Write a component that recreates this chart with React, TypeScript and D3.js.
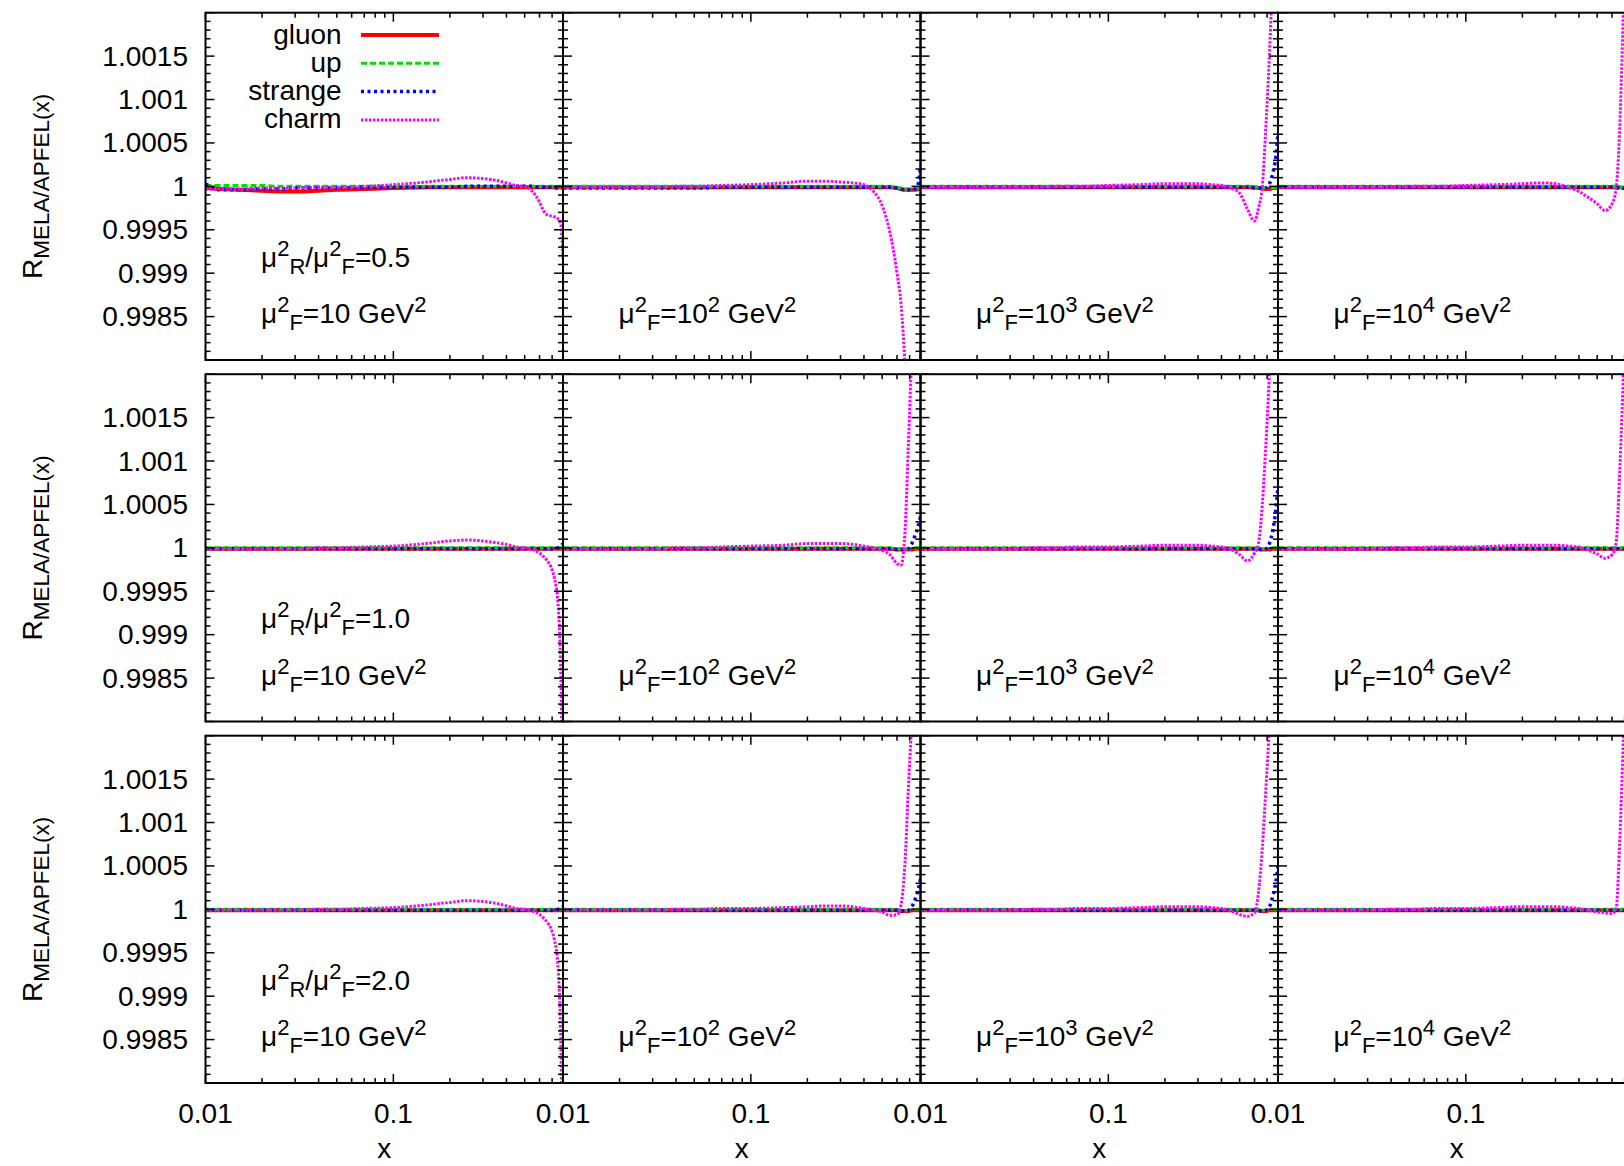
import React from "react";
import * as d3 from "d3";

// ---------- data ----------
// x sample grid (log scale), shared by all curves
const xGrid = [0.01, 0.012, 0.015, 0.02, 0.025, 0.03, 0.04, 0.05, 0.07, 0.1, 0.15, 0.2, 0.25, 0.3, 0.35, 0.4, 0.45, 0.5, 0.55, 0.6, 0.63, 0.66, 0.69, 0.72, 0.75, 0.78, 0.8];

const flavours = ["gluon", "up", "strange", "charm"];
const ratioLabels = ["0.5", "1.0", "2.0"]; // mu_R^2 / mu_F^2
const scaleExps = ["", "2", "3", "4"]; // mu_F^2 = 10^exp
const yTickValues = [0.9985, 0.999, 0.9995, 1, 1.0005, 1.001, 1.0015];
const yTickLabels = ["0.9985", "0.999", "0.9995", "1", "1.0005", "1.001", "1.0015"];
const xTickValues = [0.01, 0.1];
const xTickLabels = ["0.01", "0.1"];

// R - 1, in units of 1e-5; one array per column (mu_F^2 = 10, 1e2, 1e3, 1e4)
const gluonR05 = [
  [-2, -3, -4, -5, -6, -6, -5, -4, -3, -2, -1, -1, -1, -1, -1, -1, -1, -1, -1, -1, -1, -1, -1, -1, -1, -1, -1],
  [-1, -1, -1, -1, -1, -1, -1, -1, -1, -1, -1, -1, -1, -1, -1, -1, -1, -1, -1, -2, -3, -4, -4, -4, -4, -3, -1],
  [-1, -1, -1, -1, -1, -1, -1, -1, -1, -1, -1, -1, -1, -1, -1, -1, -1, -1, -1, -1, -2, -2, -3, -3, -2, -2, -1],
  [-1, -1, -1, -1, -1, -1, -1, -1, -1, -1, -1, -1, -1, -1, -1, -1, -1, -1, -1, -1, -1, -1, -2, -2, -2, -1, -1],
];
const upR05 = [
  [1, 1, 1, 1, 0, 0, 0, 0, 0, 0, 0, 0, 0, 0, 0, 0, 0, 0, 0, 0, 0, 0, 0, 0, 0, 0, 0],
  [0, 0, 0, 0, 0, 0, 0, 0, 0, 0, 0, 0, 0, 0, 0, 0, 0, 0, 0, -1, -2, -3, -3, -3, -3, -2, 0],
  [0, 0, 0, 0, 0, 0, 0, 0, 0, 0, 0, 0, 0, 0, 0, 0, 0, 0, 0, 0, -1, -1, -2, -2, -2, -1, 0],
  [0, 0, 0, 0, 0, 0, 0, 0, 0, 0, 0, 0, 0, 0, 0, 0, 0, 0, 0, 0, 0, -1, -1, -1, -1, -1, 0],
];
const strangeR05 = [
  [3, -4, -4, -3, -3, -2, -2, -2, -1, -1, -1, -1, 0, 0, 0, 0, 0, 0, 0, -1, -1, -1, -1, -2, -2, -2, -2],
  [-2, -2, -2, -2, -2, -2, -2, -2, -1, -1, -1, -1, -1, -1, -1, -1, -1, -1, -1, -2, -3, -4, -4, -4, -3, 4, 24],
  [-1, -1, -1, -1, -1, -1, -1, -1, -1, -1, -1, -1, -1, -1, -1, -1, -1, -1, -1, -2, -2, -2, -2, 3, 15, 35, 62],
  [-1, -1, -1, -1, -1, -1, -1, -1, -1, -1, -1, -1, -1, -1, -1, -1, -1, -1, -1, -1, -2, -2, -2, -1, 1, 3, 6],
];
const charmR05 = [
  [-3, -3, -3, -2, -2, -2, -1, -1, 0, 2, 5, 8, 10, 9, 7, 4, 1, 0, -6, -18, -28, -33, -34, -35, -37, -45, -84],
  [-1, -1, -1, -1, -1, -1, 0, 0, 1, 2, 4, 6, 6, 5, 4, 2, -6, -22, -53, -100, -135, -200, -280, -360, -440, -520, -580],
  [-1, -1, -1, -1, -1, -1, -1, 0, 0, 1, 2, 3, 3, 3, 2, 1, -2, -8, -26, -40, -25, 0, 70, 150, 250, 350, 450],
  [-1, -1, -1, -1, -1, -1, -1, 0, 0, 1, 2, 3, 4, 3, -1, -6, -13, -20, -28, -20, -4, 70, 210, 400, 600, 800, 900],
];

const gluonR10 = [
  [-1, -1, -1, -1, -1, -1, -1, -1, -1, -1, -1, -1, -1, -1, -1, -1, -1, -1, -1, -1, -1, -1, -1, -1, -1, -1, -1],
  [-1, -1, -1, -1, -1, -1, -1, -1, -1, -1, -1, -1, -1, -1, -1, -1, -1, -1, -1, -2, -2, -2, -2, -2, -1, -1, -1],
  [-1, -1, -1, -1, -1, -1, -1, -1, -1, -1, -1, -1, -1, -1, -1, -1, -1, -1, -1, -1, -1, -2, -2, -2, -1, -1, -1],
  [-1, -1, -1, -1, -1, -1, -1, -1, -1, -1, -1, -1, -1, -1, -1, -1, -1, -1, -1, -1, -1, -1, -1, -1, -1, -1, -1],
];
const upR10 = [
  [0, 0, 0, 0, 0, 0, 0, 0, 0, 0, 0, 0, 0, 0, 0, 0, 0, 0, 0, 0, 0, 0, 0, 0, 0, 0, 0],
  [0, 0, 0, 0, 0, 0, 0, 0, 0, 0, 0, 0, 0, 0, 0, 0, 0, 0, 0, -1, -1, -1, -1, -1, 0, 0, 0],
  [0, 0, 0, 0, 0, 0, 0, 0, 0, 0, 0, 0, 0, 0, 0, 0, 0, 0, 0, 0, 0, -1, -1, -1, 0, 0, 0],
  [0, 0, 0, 0, 0, 0, 0, 0, 0, 0, 0, 0, 0, 0, 0, 0, 0, 0, 0, 0, 0, 0, 0, 0, 0, 0, 0],
];
const strangeR10 = [
  [-1, -1, -1, -1, -1, -1, -1, -1, -1, -1, -1, -1, -1, -1, -1, -1, -1, -1, -1, -1, -1, -1, -1, -1, 0, 2, 5],
  [-1, -1, -1, -1, -1, -1, -1, -1, -1, -1, -1, -1, -1, -1, -1, -1, -1, -1, -1, -2, -2, -2, -1, 5, 15, 26, 36],
  [-1, -1, -1, -1, -1, -1, -1, -1, -1, -1, -1, -1, -1, -1, -1, -1, -1, -1, -1, -1, -2, -2, -1, 5, 20, 45, 71],
  [-1, -1, -1, -1, -1, -1, -1, -1, -1, -1, -1, -1, -1, -1, -1, -1, -1, -1, -1, -1, -1, -1, -1, 0, 2, 5, 8],
];
const charmR10 = [
  [-1, -1, -1, -1, -1, -1, 0, 0, 1, 2, 5, 8, 9, 8, 6, 4, 1, 0, -2, -6, -10, -15, -22, -35, -60, -150, -300],
  [-1, -1, -1, -1, -1, -1, 0, 0, 1, 2, 3, 5, 5, 5, 4, 2, 0, -3, -8, -18, -20, 15, 120, 230, 330, 430, 500],
  [-1, -1, -1, -1, -1, -1, 0, 0, 1, 1, 2, 3, 3, 3, 2, 1, -2, -8, -15, -6, 5, 50, 120, 200, 280, 360, 420],
  [-1, -1, -1, -1, -1, -1, 0, 0, 1, 1, 2, 3, 3, 3, 2, 1, -3, -7, -12, -8, 5, 90, 200, 320, 440, 540, 600],
];

const gluonR20 = [
  [-1, -1, -1, -1, -1, -1, -1, -1, -1, -1, -1, -1, -1, -1, -1, -1, -1, -1, -1, -1, -1, -1, -1, -1, -1, -1, -1],
  [-1, -1, -1, -1, -1, -1, -1, -1, -1, -1, -1, -1, -1, -1, -1, -1, -1, -1, -1, -1, -2, -2, -2, -1, -1, -1, -1],
  [-1, -1, -1, -1, -1, -1, -1, -1, -1, -1, -1, -1, -1, -1, -1, -1, -1, -1, -1, -1, -1, -2, -2, -1, -1, -1, -1],
  [-1, -1, -1, -1, -1, -1, -1, -1, -1, -1, -1, -1, -1, -1, -1, -1, -1, -1, -1, -1, -1, -1, -1, -1, -1, -1, -1],
];
const upR20 = [
  [0, 0, 0, 0, 0, 0, 0, 0, 0, 0, 0, 0, 0, 0, 0, 0, 0, 0, 0, 0, 0, 0, 0, 0, 0, 0, 0],
  [0, 0, 0, 0, 0, 0, 0, 0, 0, 0, 0, 0, 0, 0, 0, 0, 0, 0, 0, 0, -1, -1, -1, 0, 0, 0, 0],
  [0, 0, 0, 0, 0, 0, 0, 0, 0, 0, 0, 0, 0, 0, 0, 0, 0, 0, 0, 0, 0, -1, -1, 0, 0, 0, 0],
  [0, 0, 0, 0, 0, 0, 0, 0, 0, 0, 0, 0, 0, 0, 0, 0, 0, 0, 0, 0, 0, 0, 0, 0, 0, 0, 0],
];
const strangeR20 = [
  [-1, -1, -1, -1, -1, -1, -1, -1, -1, -1, -1, -1, -1, -1, -1, -1, -1, -1, -1, -1, -1, -1, -1, -1, 0, 1, 3],
  [-1, -1, -1, -1, -1, -1, -1, -1, -1, -1, -1, -1, -1, -1, -1, -1, -1, -1, -1, -1, -2, -2, -1, 3, 12, 24, 35],
  [-1, -1, -1, -1, -1, -1, -1, -1, -1, -1, -1, -1, -1, -1, -1, -1, -1, -1, -1, -1, -2, -2, -1, 3, 15, 32, 50],
  [-1, -1, -1, -1, -1, -1, -1, -1, -1, -1, -1, -1, -1, -1, -1, -1, -1, -1, -1, -1, -1, -1, -1, 0, 1, 3, 5],
];
const charmR20 = [
  [-1, -1, -1, -1, -1, -1, 0, 0, 1, 2, 5, 8, 10, 9, 7, 4, 1, 0, -2, -6, -10, -15, -22, -35, -62, -160, -320],
  [-1, -1, -1, -1, -1, -1, 0, 0, 1, 1, 2, 3, 4, 4, 3, 1, -1, -3, -7, -6, 5, 50, 140, 220, 300, 380, 450],
  [-1, -1, -1, -1, -1, -1, 0, 0, 1, 1, 2, 3, 3, 3, 2, 1, -2, -6, -8, -4, 20, 70, 140, 210, 290, 360, 420],
  [-1, -1, -1, -1, -1, -1, 0, 0, 1, 1, 2, 3, 3, 3, 2, 1, -1, -3, -4, -5, 0, 80, 200, 320, 440, 540, 600],
];

const rowData = [
  { gluon: gluonR05, up: upR05, strange: strangeR05, charm: charmR05 },
  { gluon: gluonR10, up: upR10, strange: strangeR10, charm: charmR10 },
  { gluon: gluonR20, up: upR20, strange: strangeR20, charm: charmR20 },
];

// ---------- layout / style ----------
const W = 1624;
const H = 1166;
const LEFT0 = 205.5;
const TOP0 = 12.7;
const PW = 357.5;
const PH = 347.3;
const COL_STEP = 357.5;
const ROW_STEP = 361.5;
const FONT = "'Liberation Sans', Arial, Helvetica, sans-serif";
const FS = 28;
const SFS = 22;

const styles: Record<string, { stroke: string; width: number; dash?: string }> = {
  gluon: { stroke: "#ff0000", width: 4 },
  up: { stroke: "#00e000", width: 3, dash: "6 3" },
  strange: { stroke: "#0000ff", width: 3.5, dash: "3 3.5" },
  charm: { stroke: "#ff00ff", width: 3, dash: "2.5 1.5" },
};

function MuF({ x, y, exp }: { x: number; y: number; exp: string }) {
  return (
    <text x={x} y={y} fontSize={FS} fontFamily={FONT}>
      μ
      <tspan dy={-11} fontSize={SFS}>2</tspan>
      <tspan dy={18} fontSize={SFS}>F</tspan>
      <tspan dy={-7}>=10</tspan>
      {exp ? <tspan dy={-11} fontSize={SFS}>{exp}</tspan> : null}
      <tspan dy={exp ? 11 : 0}> GeV</tspan>
      <tspan dy={-11} fontSize={SFS}>2</tspan>
    </text>
  );
}

function Ratio({ x, y, r }: { x: number; y: number; r: string }) {
  return (
    <text x={x} y={y} fontSize={FS} fontFamily={FONT}>
      μ
      <tspan dy={-11} fontSize={SFS}>2</tspan>
      <tspan dy={18} fontSize={SFS}>R</tspan>
      <tspan dy={-7}>/μ</tspan>
      <tspan dy={-11} fontSize={SFS}>2</tspan>
      <tspan dy={18} fontSize={SFS}>F</tspan>
      <tspan dy={-7}>={r}</tspan>
    </text>
  );
}

export default function App() {
  const x = d3.scaleLog().domain([0.01, 0.8]).range([0, PW]);
  const y = d3.scaleLinear().domain([0.998, 1.002]).range([PH, 0]);
  const line = d3
    .line<number>()
    .x((_, i) => x(xGrid[i]))
    .y((d) => y(1 + d * 1e-5))
    .curve(d3.curveMonotoneX);

  const yMajor = y.ticks(8);
  const yMinor = y.ticks(40);
  const xMinor = x.ticks();
  const MAJ = 9;
  const MIN = 5;

  const panels: JSX.Element[] = [];
  for (let r = 0; r < 3; r++) {
    for (let c = 0; c < 4; c++) {
      const left = LEFT0 + c * COL_STEP;
      const top = TOP0 + r * ROW_STEP;
      const id = `clip-${r}-${c}`;
      panels.push(
        <g key={id} transform={`translate(${left},${top})`}>
          <clipPath id={id}>
            <rect x={0} y={0} width={PW} height={PH} />
          </clipPath>
          <g clipPath={`url(#${id})`}>
            {flavours.map((f) => {
              const s = styles[f];
              const arr = (rowData[r] as any)[f][c] as number[];
              return (
                <path
                  key={f}
                  d={line(arr) || ""}
                  fill="none"
                  stroke={s.stroke}
                  strokeWidth={s.width}
                  strokeDasharray={s.dash}
                />
              );
            })}
          </g>
          <g stroke="#000" strokeWidth={1.5}>
            {yMinor.map((v, i) => {
              const isMaj = yMajor.some((m) => Math.abs(m - v) < 1e-9);
              const L = isMaj ? MAJ : MIN;
              const yy = y(v);
              return (
                <g key={`y${i}`}>
                  <line x1={0} x2={L} y1={yy} y2={yy} />
                  <line x1={PW} x2={PW - L} y1={yy} y2={yy} />
                </g>
              );
            })}
            {xMinor.map((v, i) => {
              const isMaj = xTickValues.some((m) => Math.abs(m - v) < 1e-9);
              const L = isMaj ? MAJ : MIN;
              const xx = x(v);
              return (
                <g key={`x${i}`}>
                  <line x1={xx} x2={xx} y1={PH} y2={PH - L} />
                  <line x1={xx} x2={xx} y1={0} y2={L} />
                </g>
              );
            })}
          </g>
          <rect x={0} y={0} width={PW} height={PH} fill="none" stroke="#000" strokeWidth={2} />
          <MuF x={55.5} y={310.6} exp={scaleExps[c]} />
          {c === 0 ? <Ratio x={55.5} y={254} r={ratioLabels[r]} /> : null}
        </g>
      );
    }
  }

  const yLabels: JSX.Element[] = [];
  const yTitles: JSX.Element[] = [];
  for (let r = 0; r < 3; r++) {
    const top = TOP0 + r * ROW_STEP;
    yTickValues.forEach((v, i) => {
      yLabels.push(
        <text
          key={`yl-${r}-${i}`}
          x={188}
          y={top + y(v) + 9.5}
          textAnchor="end"
          fontSize={FS}
          fontFamily={FONT}
        >
          {yTickLabels[i]}
        </text>
      );
    });
    yTitles.push(
      <text
        key={`yt-${r}`}
        transform={`translate(42,${top + PH / 2}) rotate(-90)`}
        textAnchor="middle"
        fontSize={FS}
        fontFamily={FONT}
      >
        R<tspan dy={7} fontSize={22.5}>MELA/APFEL(x)</tspan>
      </text>
    );
  }

  const xLabels: JSX.Element[] = [];
  for (let c = 0; c < 4; c++) {
    const left = LEFT0 + c * COL_STEP;
    xTickValues.forEach((v, i) => {
      xLabels.push(
        <text
          key={`xl-${c}-${i}`}
          x={left + x(v)}
          y={1123}
          textAnchor="middle"
          fontSize={FS}
          fontFamily={FONT}
        >
          {xTickLabels[i]}
        </text>
      );
    });
    xLabels.push(
      <text
        key={`xt-${c}`}
        x={left + PW / 2}
        y={1158}
        textAnchor="middle"
        fontSize={FS}
        fontFamily={FONT}
      >
        x
      </text>
    );
  }

  const legendY = [35, 63.3, 91.6, 119.9];
  const legend = flavours.map((f, i) => {
    const s = styles[f];
    return (
      <g key={`lg-${f}`}>
        <text x={341.7} y={legendY[i] + 8.5} textAnchor="end" fontSize={FS} fontFamily={FONT}>
          {f}
        </text>
        <line
          x1={361}
          x2={439}
          y1={legendY[i]}
          y2={legendY[i]}
          stroke={s.stroke}
          strokeWidth={s.width}
          strokeDasharray={s.dash}
        />
      </g>
    );
  });

  return (
    <svg
      width={W}
      height={H}
      viewBox={`0 0 ${W} ${H}`}
      style={{ position: "absolute", left: 0, top: 0, display: "block", background: "#fff" }}
    >
      <rect x={0} y={0} width={W} height={H} fill="#fff" />
      {panels}
      {yLabels}
      {yTitles}
      {xLabels}
      {legend}
    </svg>
  );
}
